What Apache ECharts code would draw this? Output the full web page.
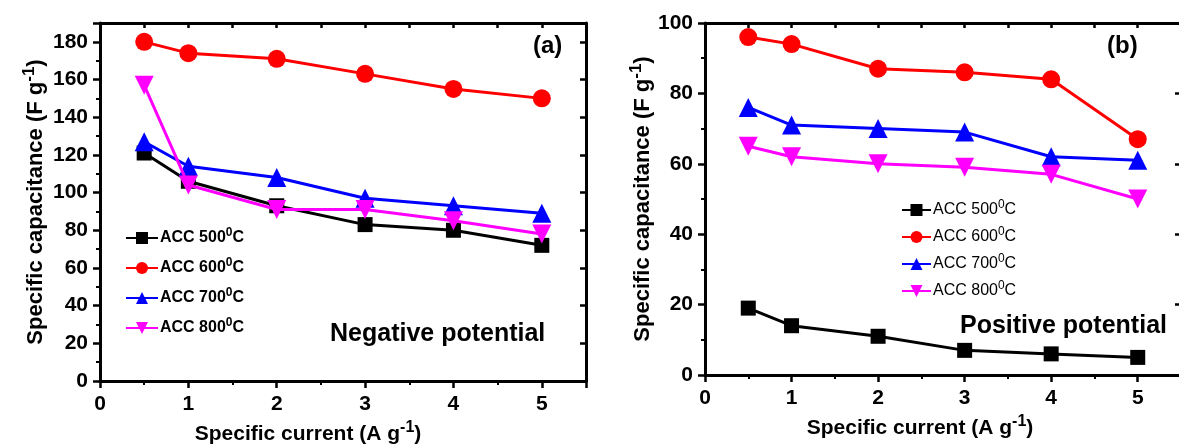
<!DOCTYPE html>
<html>
<head>
<meta charset="utf-8">
<script src="https://cdn.jsdelivr.net/npm/echarts@6/dist/echarts.min.js"></script>
<style>
  html, body { margin: 0; padding: 0; background: #fff; }
  #chart { width: 1179px; height: 444px; }
</style>
</head>
<body>
<div id="chart"></div>
<script>
// specific current (A/g)
const currents = [0.5, 1, 2, 3, 4, 5];
const seriesNames = ['ACC 500', 'ACC 600', 'ACC 700', 'ACC 800'];

// (a) negative potential
const negAcc500 = [121, 106, 93, 83, 80, 72];
const negAcc600 = [180, 174, 171, 163, 155, 150];
const negAcc700 = [127, 114, 108, 97, 93, 89];
const negAcc800 = [157, 104, 91, 91, 85, 78];

// (b) positive potential
const posAcc500 = [19, 14, 11, 7, 6, 5];
const posAcc600 = [96, 94, 87, 86, 84, 67];
const posAcc700 = [76, 71, 70, 69, 62, 61];
const posAcc800 = [65, 62, 60, 59, 57, 50];

const FONT = '"Liberation Sans", Arial, sans-serif';
const colours = ['#000000', '#ff0000', '#0000ff', '#ff00ff'];
const symbols = ['rect', 'circle', 'triangle', 'triangle'];
const symbolSizes = [15, 18, 19, 19];
const rotates = [0, 0, 0, 180];

const supRich = (size, weight) => ({
  t: { fontFamily: FONT, fontSize: size, fontWeight: weight, color: '#000' },
  s: { fontFamily: FONT, fontSize: Math.round(size * 0.75), fontWeight: weight, color: '#000', padding: [0, 0, Math.round(size * 0.6), 0] }
});

const axisLine = { show: true, onZero: false, lineStyle: { color: '#000', width: 3 } };

function bottomAxis(grid, nameShift) {
  return {
    gridIndex: grid, type: 'value', position: 'bottom', min: 0, max: 5.5, interval: 1,
    axisLine: axisLine,
    axisTick: { inside: false, length: 7, lineStyle: { width: 2.5, color: '#000' } },
    minorTick: { show: true, splitNumber: 2, length: 4, lineStyle: { width: 2, color: '#000' } },
    splitLine: { show: false },
    axisLabel: { showMaxLabel: false, margin: 13, fontFamily: FONT, fontSize: 21, fontWeight: 'bold', color: '#000' },
    name: '{t|Specific current (A g}{s|-1}{t|)}',
    nameLocation: 'middle', nameGap: 35,
    nameTextStyle: { padding: [0, nameShift, 0, 0], rich: supRich(21, 'bold') }
  };
}
function topAxis(grid) {
  return {
    gridIndex: grid, type: 'value', position: 'top', min: 0, max: 5.5, interval: 0.5,
    axisLine: axisLine,
    axisTick: { inside: true, length: 5, lineStyle: { width: 2.5, color: '#000' } },
    splitLine: { show: false }, axisLabel: { show: false }
  };
}
function leftAxis(grid, max, gap) {
  return {
    gridIndex: grid, type: 'value', position: 'left', min: 0, max: max, interval: 20,
    axisLine: axisLine,
    axisTick: { inside: false, length: 7, lineStyle: { width: 2.5, color: '#000' } },
    minorTick: { show: true, splitNumber: 2, length: 4, lineStyle: { width: 2, color: '#000' } },
    splitLine: { show: false },
    axisLabel: { showMaxLabel: max % 20 === 0, margin: 12, fontFamily: FONT, fontSize: 21, fontWeight: 'bold', color: '#000' },
    name: '{t|Specific capacitance (F g}{s|-1}{t|)}',
    nameLocation: 'middle', nameGap: gap,
    nameTextStyle: { rich: supRich(22, 'bold') }
  };
}
function rightAxis(grid, max) {
  return {
    gridIndex: grid, type: 'value', position: 'right', min: 0, max: max, interval: 20,
    axisLine: axisLine,
    axisTick: { inside: true, length: 6, lineStyle: { width: 2.5, color: '#000' } },
    splitLine: { show: false }, axisLabel: { show: false }
  };
}

function makeSeries(values, i, axisBase) {
  return {
    name: seriesNames[i], type: 'line',
    xAxisIndex: axisBase, yAxisIndex: axisBase,
    data: currents.map((c, k) => [c, values[k]]),
    symbol: symbols[i], symbolSize: symbolSizes[i], symbolRotate: rotates[i],
    lineStyle: { color: colours[i], width: 3 },
    itemStyle: { color: colours[i] },
    z: 3 + i
  };
}

const legendBase = (left, top, size, weight, gap, w) => ({
  orient: 'vertical', left: left, top: top, itemWidth: w, itemHeight: 15, itemGap: gap,
  data: seriesNames,
  formatter: n => '{t|' + n + '}{s|0}{t|C}',
  textStyle: { padding: [0, 0, 0, -3], rich: supRich(size, weight) }
});

const chart = echarts.init(document.getElementById('chart'));
chart.setOption({
  animation: false,
  backgroundColor: '#fff',
  grid: [
    { left: 100, top: 23, width: 486, height: 358, outerBoundsMode: 'none' },
    { left: 705, top: 23, width: 476, height: 352, outerBoundsMode: 'none' }
  ],
  xAxis: [bottomAxis(0, 70), topAxis(0), bottomAxis(1, 46), topAxis(1)],
  yAxis: [leftAxis(0, 190, 49), rightAxis(0, 190), leftAxis(1, 100, 42), rightAxis(1, 100)],
  legend: [
    legendBase(120, 222, 16, 'bold', 11, 32),
    legendBase(896, 194, 16, 'normal', 8, 29)
  ],
  series: [
    makeSeries(negAcc500, 0, 0), makeSeries(negAcc600, 1, 0),
    makeSeries(negAcc700, 2, 0), makeSeries(negAcc800, 3, 0),
    makeSeries(posAcc500, 0, 2), makeSeries(posAcc600, 1, 2),
    makeSeries(posAcc700, 2, 2), makeSeries(posAcc800, 3, 2)
  ],
  graphic: [
    { type: 'text', left: 533, top: 34, style: { text: '(a)', font: 'bold 24px ' + FONT, fill: '#000' } },
    { type: 'text', left: 330, top: 322, style: { text: 'Negative potential', font: 'bold 25px ' + FONT, fill: '#000' } },
    { type: 'text', left: 960, top: 314, style: { text: 'Positive potential', font: 'bold 25px ' + FONT, fill: '#000' } },
    { type: 'text', left: 1107, top: 34, style: { text: '(b)', font: 'bold 24px ' + FONT, fill: '#000' } }
  ]
});
</script>
</body>
</html>
